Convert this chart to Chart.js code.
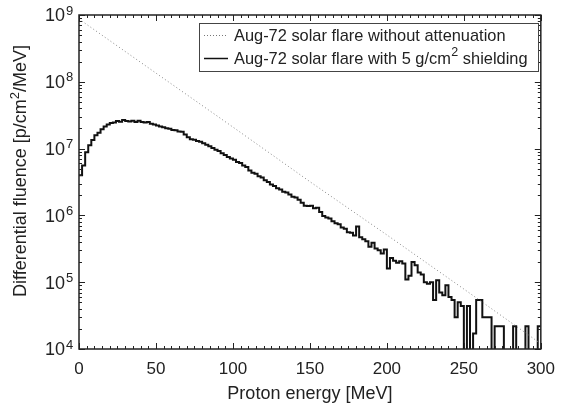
<!DOCTYPE html>
<html>
<head>
<meta charset="utf-8">
<script src="https://cdn.jsdelivr.net/npm/chart.js@4"></script>
<style>
  body { margin: 0; background: #fff; }
</style>
</head>
<body>
<canvas id="chart" width="565" height="407"></canvas>
<script>
// proton spectrum behind 5 g/cm2, 2 MeV bins starting at 0 MeV (values below 1e4 = empty bins)
const binWidth = 2;
const shieldedFluence = [
  4.0e6, 5.6e6, 8.8e6, 1.12e7, 1.35e7, 1.58e7, 1.72e7, 1.95e7, 2.15e7, 2.3e7,
  2.42e7, 2.45e7, 2.58e7, 2.52e7, 2.68e7, 2.6e7, 2.55e7, 2.62e7, 2.5e7, 2.62e7,
  2.5e7, 2.45e7, 2.5e7, 2.35e7, 2.3e7, 2.22e7, 2.15e7, 2.08e7, 2.02e7, 1.98e7,
  1.9e7, 1.88e7, 1.8e7, 1.78e7, 1.62e7, 1.48e7, 1.38e7, 1.36e7, 1.3e7, 1.27e7,
  1.2e7, 1.14e7, 1.08e7, 1.02e7, 9.6e6, 9.2e6, 8.5e6, 8.0e6, 7.5e6, 7.1e6,
  6.8e6, 6.3e6, 6.1e6, 5.6e6, 5.3e6, 4.7e6, 4.35e6, 4.2e6, 3.85e6, 3.7e6,
  3.35e6, 3.15e6, 2.9e6, 2.75e6, 2.55e6, 2.45e6, 2.25e6, 2.2e6, 2.05e6, 1.9e6,
  1.85e6, 1.72e6, 1.55e6, 1.4e6, 1.38e6, 1.4e6, 1.28e6, 1.3e6, 1.12e6, 9.8e5,
  9.3e5, 9.0e5, 8.2e5, 7.6e5, 7.4e5, 6.6e5, 6.3e5, 5.6e5, 5.5e5, 5.0e5,
  6.8e5, 4.7e5, 4.4e5, 4.1e5, 3.4e5, 3.9e5, 3.2e5, 3.0e5, 2.7e5, 3.1e5,
  1.6e5, 2.3e5, 2.1e5, 1.95e5, 2.05e5, 1.9e5, 1.1e5, 1.25e5, 2.0e5, 1.8e5,
  1.4e5, 1.3e5, 1.0e5, 9.5e4, 1.0e5, 5.4e4, 1.07e5, 7.0e4, 6.4e4, 9.0e4,
  6.0e4, 5.4e4, 3.0e4, 5.0e4, 4.4e4, 1e3, 4.4e4, 1e3, 1.7e4, 5.4e4,
  5.4e4, 3.0e4, 3.0e4, 3.0e4, 1e3, 2.2e4, 2.2e4, 2.2e4, 1e3, 1e3,
  1e3, 2.2e4, 1e3, 1e3, 1e3, 2.2e4, 1e3, 1e3, 1e3, 2.2e4
];

// unattenuated spectrum
const freeEnergy = [0, 50, 100, 150, 200, 250, 300];
const freeFluence = [8.7e8, 1.35e8, 2.1e7, 3.2e6, 5.1e5, 7.9e4, 1.2e4];

const yDecades = [4, 5, 6, 7, 8, 9];
const legendLabels = ['Aug-72 solar flare without attenuation', 'Aug-72 solar flare with 5 g/cm', '2', ' shielding'];
const yTitleParts = ['Differential fluence [p/cm', '2', '/MeV]'];

const FONT = '"Liberation Sans", Arial, Helvetica, sans-serif';
const INK = '#222';

const shieldedPoints = shieldedFluence.map((v, i) => ({ x: i * binWidth, y: v }));
shieldedPoints.push({ x: shieldedFluence.length * binWidth, y: shieldedFluence[shieldedFluence.length - 1] });
const freePoints = freeEnergy.map((e, i) => ({ x: e, y: freeFluence[i] }));

// frame, inward ticks, y labels with exponents, rotated y title, legend box
const decorations = {
    id: 'decorations',
    afterDraw(chart) {
        const { ctx, chartArea: a, scales: { x, y } } = chart;
        ctx.save();
        ctx.strokeStyle = INK;
        ctx.lineWidth = 1;
        ctx.beginPath();
        for (let v = 0; v <= 300; v += 5) {
            const px = Math.round(x.getPixelForValue(v)) + 0.5;
            const len = v % 50 === 0 ? 6 : 3;
            ctx.moveTo(px, a.bottom); ctx.lineTo(px, a.bottom - len);
            ctx.moveTo(px, a.top); ctx.lineTo(px, a.top + len);
        }
        yDecades.forEach(d => {
            for (let m = 1; m < 10; m++) {
                if (d === 9 && m > 1) break;
                const py = Math.round(y.getPixelForValue(m * Math.pow(10, d))) + 0.5;
                const len = m === 1 ? 6 : 3;
                ctx.moveTo(a.left, py); ctx.lineTo(a.left + len, py);
                ctx.moveTo(a.right, py); ctx.lineTo(a.right - len, py);
            }
        });
        ctx.stroke();
        ctx.lineWidth = 1.5;
        ctx.strokeRect(a.left, a.top, a.right - a.left, a.bottom - a.top);

        // y tick labels 10^n
        ctx.fillStyle = INK;
        yDecades.forEach(d => {
            const py = y.getPixelForValue(Math.pow(10, d));
            ctx.font = '18px ' + FONT;
            ctx.textAlign = 'right';
            ctx.textBaseline = 'middle';
            ctx.fillText('10', 65, py + 1.5);
            ctx.font = '13px ' + FONT;
            ctx.textAlign = 'left';
            ctx.fillText(String(d), 66, py - 4);
        });

        // y axis title
        ctx.save();
        ctx.translate(21, 171);
        ctx.rotate(-Math.PI / 2);
        ctx.textBaseline = 'middle';
        ctx.textAlign = 'left';
        const big = '18px ' + FONT, small = '13px ' + FONT;
        ctx.font = big; const w0 = ctx.measureText(yTitleParts[0]).width;
        ctx.font = small; const w1 = ctx.measureText(yTitleParts[1]).width;
        ctx.font = big; const w2 = ctx.measureText(yTitleParts[2]).width;
        let tx = -(w0 + w1 + w2) / 2;
        ctx.font = big; ctx.fillText(yTitleParts[0], tx, 0); tx += w0;
        ctx.font = small; ctx.fillText(yTitleParts[1], tx, -6); tx += w1;
        ctx.font = big; ctx.fillText(yTitleParts[2], tx, 0);
        ctx.restore();

        // legend
        ctx.lineWidth = 1;
        ctx.strokeStyle = '#444';
        ctx.fillStyle = '#fff';
        ctx.fillRect(199.5, 23.5, 339, 48);
        ctx.strokeRect(199.5, 23.5, 339, 48);
        ctx.beginPath();
        ctx.setLineDash([1, 2]);
        ctx.strokeStyle = '#777';
        ctx.moveTo(204, 35.5); ctx.lineTo(228, 35.5);
        ctx.stroke();
        ctx.setLineDash([]);
        ctx.beginPath();
        ctx.strokeStyle = '#111';
        ctx.lineWidth = 1.5;
        ctx.moveTo(204, 58.5); ctx.lineTo(228, 58.5);
        ctx.stroke();
        ctx.fillStyle = INK;
        ctx.textAlign = 'left';
        ctx.textBaseline = 'middle';
        ctx.font = '16.4px ' + FONT;
        ctx.fillText(legendLabels[0], 234, 36);
        let lx = 234;
        ctx.fillText(legendLabels[1], lx, 59);
        lx += ctx.measureText(legendLabels[1]).width;
        ctx.font = '12.5px ' + FONT;
        ctx.fillText(legendLabels[2], lx + 0.5, 53);
        lx += ctx.measureText(legendLabels[2]).width + 0.5;
        ctx.font = '16.4px ' + FONT;
        ctx.fillText(legendLabels[3], lx, 59);
        ctx.restore();
    }
};

new Chart(document.getElementById('chart'), {
    type: 'line',
    data: {
        datasets: [{
            label: legendLabels[0],
            data: freePoints,
            borderColor: '#888',
            borderWidth: 1,
            borderDash: [1, 2.5],
            pointRadius: 0,
            fill: false
        }, {
            label: 'Aug-72 solar flare with 5 g/cm² shielding',
            data: shieldedPoints,
            borderColor: '#111',
            borderWidth: 2,
            stepped: 'before',
            pointRadius: 0,
            fill: false
        }]
    },
    options: {
        responsive: false,
        animation: false,
        events: [],
        layout: { padding: { left: 0, top: 15, right: 18, bottom: 0 } },
        plugins: { legend: { display: false }, tooltip: { enabled: false } },
        scales: {
            x: {
                type: 'linear',
                min: 0,
                max: 300,
                grid: { display: false, drawTicks: false },
                border: { display: false },
                ticks: { stepSize: 50, padding: 10, color: INK, font: { family: FONT, size: 17 } },
                title: {
                    display: true,
                    text: 'Proton energy [MeV]',
                    color: INK,
                    font: { family: FONT, size: 18 },
                    padding: { top: 0, bottom: 2 }
                },
                afterFit(scale) { scale.height = 58; }
            },
            y: {
                type: 'logarithmic',
                min: 1e4,
                max: 1e9,
                grid: { display: false, drawTicks: false },
                border: { display: false },
                ticks: { display: false },
                afterFit(scale) { scale.width = 79; }
            }
        }
    },
    plugins: [decorations]
});
</script>
</body>
</html>
